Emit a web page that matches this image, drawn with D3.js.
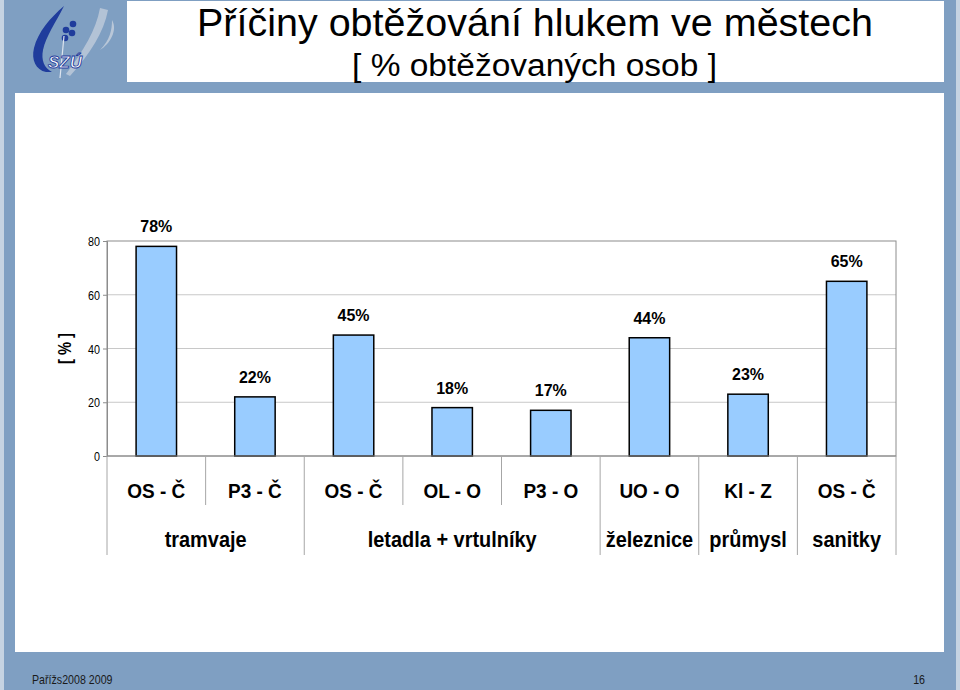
<!DOCTYPE html>
<html><head><meta charset="utf-8">
<script src="https://cdn.jsdelivr.net/npm/d3@7"></script>
<style>
html,body{margin:0;padding:0;background:#7f9fc2;}
svg{display:block;}
text{font-family:"Liberation Sans",Arial,sans-serif;}
</style></head>
<body>
<svg id="c" width="960" height="690"></svg>
<script>
const categories = ["OS - Č","P3 - Č","OS - Č","OL - O","P3 - O","UO - O","Kl - Z","OS - Č"];
const values = [78,22,45,18,17,44,23,65];
const groups = ["tramvaje","letadla + vrtulníky","železnice","průmysl","sanitky"];
const groupSizes = [2,3,1,1,1];
const yTicks = [0,20,40,60,80];
const title = "Příčiny obtěžování hlukem ve městech";
const subtitle = "[ % obtěžovaných osob ]";
const yLabel = "[ % ]";

(function(){
const svg = d3.select("#c");
// measure helper for horizontal condensing (emulates a narrow typeface)
const meas = svg.append("text").attr("x",-1000).attr("y",-1000);
function widthOf(str,size,weight){
  meas.attr("font-size",size).attr("font-weight",weight||"normal").text(str);
  return meas.node().getComputedTextLength();
}
function narrowText(parent,x,y,str,size,weight,anchor,sx,fill){
  const g = parent.append("g").attr("transform",`translate(${x},${y}) scale(${sx},1)`);
  g.append("text").attr("font-size",size).attr("font-weight",weight||"normal")
    .attr("text-anchor",anchor||"start").attr("fill",fill||"#000").text(str);
  return g;
}

// frame
svg.append("rect").attr("x",0).attr("y",0).attr("width",960).attr("height",690).attr("fill","#7f9fc2");
svg.append("rect").attr("x",0).attr("y",0).attr("width",4).attr("height",690).attr("fill","#c5d3e2");
svg.append("rect").attr("x",956).attr("y",0).attr("width",4).attr("height",690).attr("fill","#c5d3e2");
svg.append("rect").attr("x",127).attr("y",1).attr("width",817).attr("height",81).attr("fill","#fff");
svg.append("rect").attr("x",15).attr("y",93).attr("width",929).attr("height",559).attr("fill","#fff");

// logo (simplified)
const lg = svg.append("g");
lg.append("path").attr("d","M100,8 C96,30 84,50 66,74 L70,76 C90,54 104,32 108,10 Z").attr("fill","#b9c7d8").attr("opacity",0.9);
lg.append("path").attr("d","M112,20 C118,30 110,44 100,50 C110,40 112,30 112,20 Z").attr("fill","#b9c7d8");
lg.append("path").attr("d","M64,6 C50,18 38,32 34,48 C31,60 36,70 46,72 L52,72 C44,68 41,60 43,50 C46,36 56,22 64,6 Z").attr("fill","#1f3c9c");
[[66,30],[73,24],[72,33],[65,38]].forEach(p=>lg.append("circle").attr("cx",p[0]).attr("cy",p[1]).attr("r",3.3).attr("fill","#1f3c9c"));
lg.append("line").attr("x1",64).attr("y1",36).attr("x2",60).attr("y2",78).attr("stroke","#dde4ee").attr("stroke-width",1.2);
lg.append("text").attr("x",48).attr("y",68).attr("font-size",17).attr("font-weight","bold").attr("font-style","italic")
  .attr("fill","#fff").attr("stroke","#1f3c9c").attr("stroke-width",0.9).text("SZÚ");

// titles
const tW = widthOf(title,38,"normal");
narrowText(svg,535,36,title,38,"normal","middle",676/tW);
const sW = widthOf(subtitle,31,"normal");
narrowText(svg,534.5,76,subtitle,31,"normal","middle",365/sW);

// plot
const pL=107,pR=896,pT=241,pB=456;
const x = d3.scaleBand().domain(d3.range(categories.length)).range([pL,pR]).padding(0);
const y = d3.scaleLinear().domain([0,80]).range([pB,pT]);

// gridlines
svg.append("g").selectAll("line").data(yTicks.filter(t=>t>0&&t<80)).join("line")
  .attr("x1",pL).attr("x2",pR).attr("y1",d=>y(d)).attr("y2",d=>y(d)).attr("stroke","#c8c8c8").attr("stroke-width",1);
// plot border
svg.append("rect").attr("x",pL).attr("y",pT).attr("width",pR-pL).attr("height",pB-pT)
  .attr("fill","none").attr("stroke","#8c8c8c").attr("stroke-width",1);

// y axis
const yAxis = d3.axisLeft(y).tickValues(yTicks).tickSize(4).tickPadding(7).tickFormat(d3.format("d"));
const ga = svg.append("g").attr("transform",`translate(${pL},0)`).call(yAxis);
ga.select(".domain").attr("stroke","#8c8c8c");
ga.selectAll(".tick line").attr("stroke","#8c8c8c");
const tickSx = 12/widthOf("80",13,"normal");
ga.selectAll(".tick text").attr("font-size",13).attr("fill","#000")
  .style("font-family","'Liberation Sans',Arial,sans-serif")
  .attr("x",null).attr("dy","0.35em")
  .attr("transform",`translate(-7,0) scale(${tickSx},1)`);

const lW = widthOf(yLabel,18,"bold");
const yl = svg.append("g").attr("transform",`translate(71,${(pT+pB)/2}) rotate(-90) scale(${31/lW},1)`);
yl.append("text").attr("text-anchor","middle").attr("font-size",18).attr("font-weight","bold").text(yLabel);

// bars
const bw = x.bandwidth()*0.41;
svg.append("g").selectAll("rect").data(values).join("rect")
  .attr("x",(d,i)=>x(i)+x.bandwidth()/2-bw/2).attr("width",bw)
  .attr("y",d=>y(d)).attr("height",d=>pB-y(d))
  .attr("fill","#99ccff").attr("stroke","#000").attr("stroke-width",1.5);

const vSx = 32/widthOf("78%",17,"bold");
const vg = svg.append("g");
values.forEach((d,i)=>narrowText(vg,x(i)+x.bandwidth()/2,y(d)-14,d+"%",17,"bold","middle",vSx));

// bottom axis line
svg.append("line").attr("x1",pL).attr("x2",pR).attr("y1",pB).attr("y2",pB).attr("stroke","#8c8c8c");

// category labels
const cSx = 58/widthOf("OS - Č",21,"bold");
const cg = svg.append("g");
categories.forEach((d,i)=>narrowText(cg,x(i)+x.bandwidth()/2,498,d,21,"bold","middle",cSx));

// separators
const bounds=[0]; groupSizes.forEach(s=>bounds.push(bounds[bounds.length-1]+s));
const sepG = svg.append("g").attr("stroke","#a6a6a6").attr("stroke-width",1);
for(let i=0;i<=categories.length;i++){
  const xx = i<categories.length ? x(i) : pR;
  const long = bounds.includes(i);
  sepG.append("line").attr("x1",xx).attr("x2",xx).attr("y1",pB).attr("y2",long?555:505);
}
// group labels
const gSx = 82/widthOf("tramvaje",22,"bold");
const gg = svg.append("g");
groups.forEach((d,i)=>{
  const a=x(bounds[i]);const b=bounds[i+1]<categories.length?x(bounds[i+1]):pR;
  narrowText(gg,(a+b)/2,547,d,22,"bold","middle",gSx);
});

// footer
const fSx = 0.82;
narrowText(svg,32,684,"Pařížs2008 2009",13,"normal","start",fSx,"#1a1a1a");
narrowText(svg,925,684,"16",13,"normal","end",fSx,"#1a1a1a");
meas.remove();
})();
</script>
</body></html>
